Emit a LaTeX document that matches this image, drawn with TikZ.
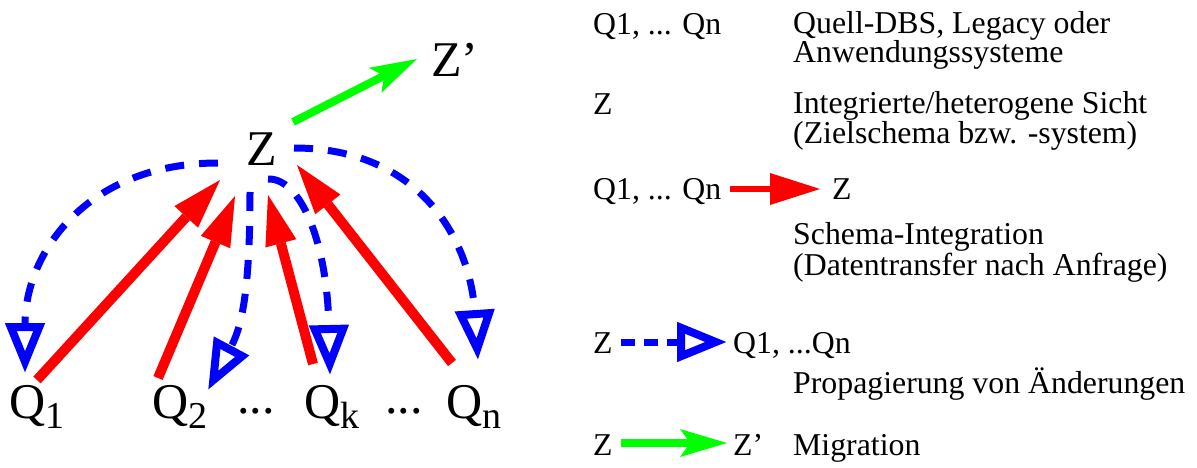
\documentclass[tikz,border=0pt]{standalone}
\usepackage{fontspec}
\setmainfont{Liberation Serif}
\usetikzlibrary{arrows.meta}

\newcommand{\qsub}[2]{#1\raisebox{-10pt}{\fontsize{38}{38}\selectfont #2}}

\begin{document}
\begin{tikzpicture}[x=1pt, y=-1pt,
  every node/.style={inner sep=0pt, anchor=base west},
  big/.style={font=\fontsize{50}{50}\selectfont},
  leg/.style={font=\fontsize{31.8}{28}\selectfont, align=left},
  redarrow/.style={red, line width=10pt, -{Triangle[length=50pt, width=32pt, line width=0pt]}},
  bluearrow/.style={blue, line width=7pt, dash pattern=on 19pt off 15pt, -{Triangle[open, length=50pt, width=38pt, line width=8pt]}},
  greenarrow/.style={green, line width=8pt, -{Stealth[length=47pt, width=28pt, inset=10pt, line width=0pt]}}]
  \useasboundingbox (0,0) rectangle (1197,468);

  \node[big] (z) at (246,165) {Z};
  \node[big] (zz) at (431,77) {Z’};
  \node[big] (q1) at (9,418) {\qsub{Q}{1}};
  \node[big] (q2) at (152,418) {\qsub{Q}{2}};
  \node[big] (d1) at (237,413) {...};
  \node[big] (qk) at (304,418) {\qsub{Q}{k}};
  \node[big] (d2) at (385,413) {...};
  \node[big] (qn) at (446,418) {\qsub{Q}{n}};

  \coordinate (q1a) at (37,380);
  \coordinate (q2a) at (158,378);
  \coordinate (qka) at (313,364);
  \coordinate (qna) at (452,363);
  \coordinate (z1) at (220,180);
  \coordinate (z2) at (235,196);
  \coordinate (zk) at (268,195);
  \coordinate (zn) at (297,165);
  \draw[redarrow] (q1a) -- (z1);
  \draw[redarrow] (q2a) -- (z2);
  \draw[redarrow] (qka) -- (zk);
  \draw[redarrow] (qna) -- (zn);

  \coordinate (zl) at (218,163);
  \coordinate (q1b) at (25,373);
  \coordinate (zm) at (250,192);
  \coordinate (q2b) at (208,390);
  \coordinate (zs) at (268,179);
  \coordinate (qkb) at (330,375);
  \coordinate (zr) at (294,148);
  \coordinate (qnb) at (478,360);
  \draw[bluearrow] (zl) .. controls (90,163) and (25,250) .. (q1b);
  \draw[bluearrow] (zm) .. controls (250,300) and (240,330) .. (q2b);
  \draw[bluearrow] (zs) .. controls (300,178) and (327,240) .. (qkb);
  \draw[bluearrow] (zr) .. controls (420,148) and (470,240) .. (qnb);

  \coordinate (zg) at (293,122);
  \coordinate (zzg) at (417,59);
  \draw[greenarrow] (zg) -- (zzg);

  \node[leg] (lq) at (593,35) {Q1, ... Qn};
  \node[leg] (lqt) at (793,63) {Quell-DBS, Legacy oder\\Anwendungssysteme};
  \node[leg] (lz) at (593,115) {Z};
  \node[leg] (lzt) at (793,143) {Integrierte/heterogene Sicht\\(Zielschema bzw. -system)};
  \node[leg] (siq) at (593,200) {Q1, ... Qn};
  \node[leg] (siz) at (832,200) {Z};
  \node[leg] (sit) at (793,275) {Schema-Integration\\(Datentransfer nach Anfrage)};
  \node[leg] (prz) at (593,353) {Z};
  \node[leg] (prq) at (733,353) {Q1, ...Qn};
  \node[leg] (prt) at (793,393) {Propagierung von Änderungen};
  \node[leg] (miz) at (593,455) {Z};
  \node[leg] (mizz) at (733,455) {Z’};
  \node[leg] (mit) at (793,455) {Migration};

  \draw[redarrow, line width=6pt] ([xshift=9pt, yshift=11pt]siq.base east) -- ([xshift=-12pt, yshift=11pt]siz.base west);
  \draw[bluearrow, dash pattern=on 14pt off 9pt] ([xshift=8pt, yshift=11pt]prz.base east) -- ([xshift=-6pt, yshift=11pt]prq.base west);
  \draw[greenarrow] ([xshift=8pt, yshift=12pt]miz.base east) -- ([xshift=-6pt, yshift=12pt]mizz.base west);
\end{tikzpicture}
\end{document}
